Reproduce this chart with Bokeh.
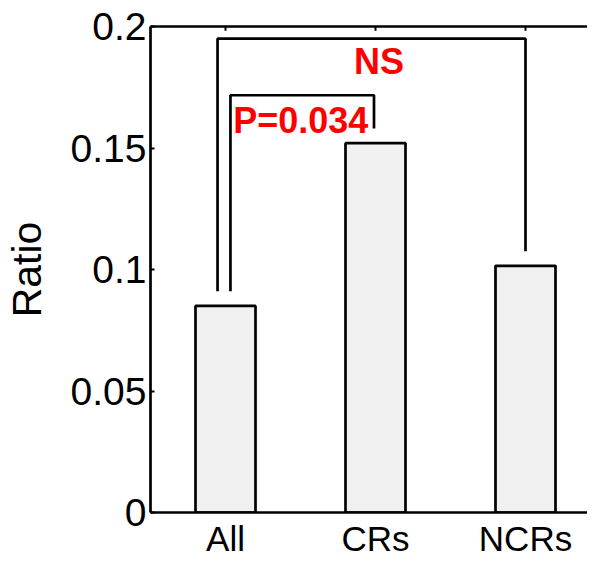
from bokeh.plotting import figure
from bokeh.embed import file_html
from bokeh.resources import INLINE
from bokeh.models import Range1d, FixedTicker, LinearAxis
from bokeh.core.properties import value

# ---- data ----
categories = ["All", "CRs", "NCRs"]
ratios = [0.085, 0.152, 0.1015]
y_ticks = [0, 0.05, 0.1, 0.15, 0.2]
y_tick_labels = ["0", "0.05", "0.1", "0.15", "0.2"]
# comparisons: (index a, index b, label, bracket level)
comp_a = [0, 0]
comp_b = [1, 2]
comp_labels = ["P=0.034", "NS"]
comp_levels = [0.1717, 0.195]

xs = [i + 1 for i in range(len(categories))]

# ---- style ----
FONT = "Liberation Sans"
LW = 2.7
leg_gap = 0.006
left_offsets = [0.033, -0.053]
right_offsets = [-0.01, 0.0]
label_dx = [-0.01, 0.05]
label_dy = [-0.0103, -0.0095]

p = figure(width=587, height=560,
           x_range=Range1d(0.5, 0.5 + 437 / 150), y_range=Range1d(0, 0.2),
           output_backend="svg", toolbar_location=None,
           min_border_left=150, min_border_right=0,
           min_border_top=26, min_border_bottom=46)
p.outline_line_color = None
p.xgrid.visible = False
p.ygrid.visible = False
p.background_fill_color = "white"
p.border_fill_color = "white"

p.vbar(x=xs, top=ratios, width=0.4, bottom=0,
       fill_color="#f0f0f0", line_color="black", line_width=LW)

# brackets
b_xs, b_ys = [], []
t_x, t_y = [], []
for a, b, lev, lo, ro, dx, dy in zip(comp_a, comp_b, comp_levels,
                                     left_offsets, right_offsets, label_dx, label_dy):
    xa = xs[a] + lo
    xb = xs[b] + ro
    b_xs.append([xa, xa, xb, xb])
    b_ys.append([ratios[a] + leg_gap, lev, lev, ratios[b] + leg_gap])
    t_x.append((xa + xb) / 2 + dx)
    t_y.append(lev + dy)

p.multi_line(xs=b_xs, ys=b_ys, line_color="black", line_width=LW)
p.text(x=t_x, y=t_y, text=comp_labels, text_color="#ff0000",
       text_font=value(FONT), text_font_style="bold",
       text_font_size="36px", text_align="center",
       text_baseline="alphabetic")

# top-axis tick marks (inward) at the categories
y_top = y_ticks[-1]
p.segment(x0=xs, y0=[y_top] * len(xs), x1=xs, y1=[y_top - 0.0017] * len(xs),
          line_color="black", line_width=2)

# axes
xa_ = p.xaxis[0]
xa_.ticker = FixedTicker(ticks=xs)
xa_.major_label_overrides = {x: c for x, c in zip(xs, categories)}
xa_.major_tick_in = 0
xa_.major_tick_out = 0
xa_.minor_tick_line_color = None
xa_.axis_line_width = LW
xa_.major_label_text_font = FONT
xa_.major_label_text_font_size = "35px"
xa_.major_label_text_color = "black"
xa_.major_label_standoff = 6

ya = p.yaxis[0]
ya.ticker = FixedTicker(ticks=y_ticks)
ya.major_label_overrides = {t: l for t, l in zip(y_ticks, y_tick_labels)}
ya.major_tick_in = 4
ya.major_tick_out = 0
ya.major_tick_line_width = 2
ya.minor_tick_line_color = None
ya.axis_line_width = LW
ya.major_label_text_font = FONT
ya.major_label_text_font_size = "39px"
ya.major_label_text_color = "black"
ya.major_label_standoff = 4
ya.axis_label = "Ratio"
ya.axis_label_text_font = FONT
ya.axis_label_text_font_size = "41px"
ya.axis_label_text_font_style = "normal"
ya.axis_label_text_color = "black"
ya.axis_label_standoff = 18

top = LinearAxis(ticker=FixedTicker(ticks=[]))
top.major_tick_in = 0
top.major_tick_out = 0
top.minor_tick_line_color = None
top.axis_line_width = LW
p.add_layout(top, "above")

open("out.html", "w").write(file_html(p, INLINE))
